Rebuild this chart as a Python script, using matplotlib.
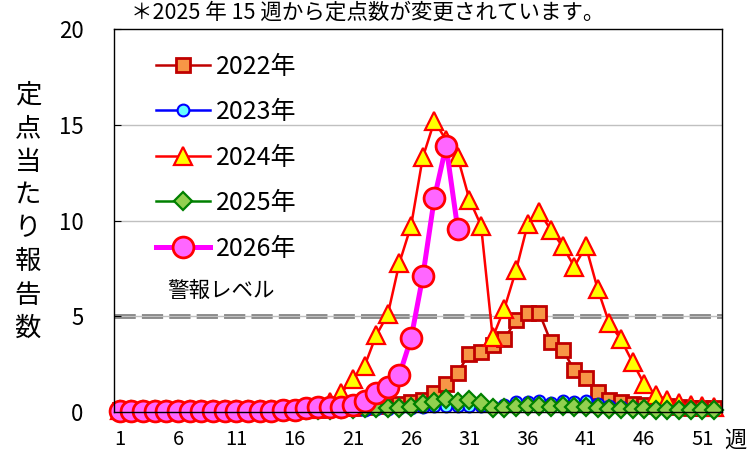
import matplotlib
matplotlib.use('Agg')
import matplotlib.pyplot as plt
import numpy as np

plt.rcParams['font.family'] = ['Noto Sans CJK JP', 'DejaVu Sans']

weeks = list(range(1, 53))

y2022 = [0.1, 0.1, 0.1, 0.1, 0.1, 0.1, 0.1, 0.1, 0.1, 0.1,
         0.1, 0.1, 0.1, 0.1, 0.1, 0.1, 0.1, 0.1, 0.15, 0.2,
         0.2, 0.25, 0.3, 0.35, 0.4, 0.5, 0.63, 1.0, 1.45, 2.06,
         3.05, 3.16, 3.5, 3.8, 4.8, 5.17, 5.17, 3.65, 3.25, 2.2,
         1.8, 1.05, 0.65, 0.5, 0.4, 0.35, 0.3, 0.3, 0.25, 0.2,
         0.2, 0.2]
y2023 = [0.05, 0.05, 0.05, 0.05, 0.05, 0.05, 0.05, 0.05, 0.05, 0.05,
         0.05, 0.05, 0.05, 0.05, 0.05, 0.05, 0.05, 0.05, 0.05, 0.05,
         0.1, 0.1, 0.15, 0.15, 0.2, 0.2, 0.25, 0.3, 0.3, 0.3,
         0.3, 0.3, 0.25, 0.35, 0.5, 0.5, 0.55, 0.45, 0.6, 0.5,
         0.6, 0.4, 0.3, 0.25, 0.2, 0.2, 0.2, 0.15, 0.15, 0.15,
         0.1, 0.1]
y2024 = [0.1, 0.1, 0.1, 0.1, 0.1, 0.1, 0.1, 0.1, 0.1, 0.1,
         0.1, 0.1, 0.1, 0.1, 0.1, 0.15, 0.15, 0.2, 0.5, 1.0,
         1.7, 2.4, 4.0, 5.1, 7.8, 9.74, 13.3, 15.2, 14.2, 13.3,
         11.1, 9.74, 3.9, 5.4, 7.4, 9.8, 10.45, 9.5, 8.65, 7.6,
         8.65, 6.44, 4.64, 3.8, 2.6, 1.47, 0.9, 0.63, 0.45, 0.35,
         0.3, 0.25]
y2025 = [0.1, 0.1, 0.1, 0.1, 0.1, 0.1, 0.1, 0.1, 0.1, 0.1,
         0.1, 0.1, 0.1, 0.1, 0.1, 0.1, 0.1, 0.1, 0.1, 0.15,
         0.15, 0.2, 0.2, 0.2, 0.2, 0.25, 0.4, 0.54, 0.7, 0.5,
         0.63, 0.47, 0.2, 0.2, 0.25, 0.3, 0.3, 0.25, 0.3, 0.25,
         0.25, 0.2, 0.15, 0.15, 0.15, 0.15, 0.1, 0.1, 0.1, 0.1,
         0.1, 0.1]
weeks2026 = list(range(1, 31))
y2026 = [0.05, 0.05, 0.05, 0.05, 0.05, 0.05, 0.05, 0.05, 0.05, 0.05,
         0.05, 0.05, 0.05, 0.05, 0.1, 0.1, 0.2, 0.25, 0.25, 0.25,
         0.35, 0.55, 0.98, 1.3, 1.95, 3.86, 7.08, 11.2, 13.9, 9.56]

alert_level = 5
xtick_weeks = [1, 6, 11, 16, 21, 26, 31, 36, 41, 46, 51]

fig = plt.figure(figsize=(7.5, 4.55), dpi=100)
ax = fig.add_axes([0.152, 0.0945, 0.811, 0.8415])

# grid + alert level
for g in [5, 10, 15]:
    ax.axhline(g, color='#c0c0c0', lw=1.0, zorder=1.5)
ax.axhline(alert_level, color='#808080', lw=3.4, dashes=(4.5, 1.3), zorder=1.2)

ax.plot(weeks, y2022, color='#c00000', lw=1.8, marker='s', ms=10.5,
        mfc='#f79646', mec='#c00000', mew=2.0, label='2022年', clip_on=False)
ax.plot(weeks, y2023, color='#0000ff', lw=1.8, marker='o', ms=8.5,
        mfc='#66ffff', mec='#0000ff', mew=1.5, label='2023年', clip_on=False)
ax.plot(weeks, y2024, color='#ff0000', lw=1.8, marker='^', ms=12.5,
        mfc='#ffff00', mec='#ff0000', mew=1.6, label='2024年', clip_on=False)
ax.plot(weeks, y2025, color='#008000', lw=1.8, marker='D', ms=9.5,
        mfc='#92d050', mec='#008000', mew=1.6, label='2025年', clip_on=False)
ax.plot(weeks2026, y2026, color='#ff00ff', lw=3.6, marker='o', ms=15,
        mfc='#ff66ff', mec='#ff0000', mew=2.0, label='2026年', clip_on=False)

ax.set_xlim(0.5, 52.7)
ax.set_ylim(0, 20)
ax.set_yticks([0, 5, 10, 15, 20])
ax.set_xticks(xtick_weeks)
ax.tick_params(axis='y', direction='in', length=5, pad=22, labelsize=16)
ax.tick_params(axis='x', length=0, pad=12, labelsize=14.5)
for s in ax.spines.values():
    s.set_linewidth(1.0)

leg = ax.legend(loc='upper left', bbox_to_anchor=(0.045, 0.975), frameon=False,
                fontsize=18, handlelength=2.15, labelspacing=0.78,
                handletextpad=0.25, borderaxespad=0.2)

ax.text(0.088, 0.315, '警報レベル', transform=ax.transAxes, fontsize=15.5, va='center')

fig.text(0.037, 0.534, '\n'.join('定点当たり報告数'), fontsize=19, ha='center', va='center',
         linespacing=1.3)
fig.text(0.98, 0.033, '週', fontsize=16, ha='center', va='center')
fig.text(0.49, 0.973, '＊2025 年 15 週から定点数が変更されています。', fontsize=15.5,
         ha='center', va='center')

plt.savefig('out.png', dpi=100)
